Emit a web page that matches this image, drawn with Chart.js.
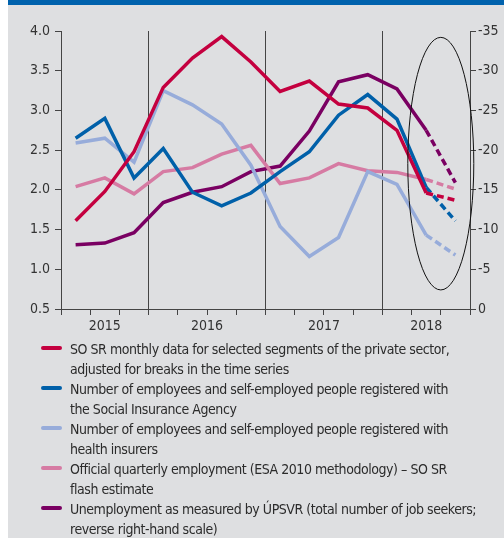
<!DOCTYPE html>
<html>
<head>
<meta charset="utf-8">
<script src="https://cdn.jsdelivr.net/npm/chart.js@4.4.1/dist/chart.umd.min.js"></script>
<style>
  body { margin: 0; background: #fff; font-family: "Liberation Sans Narrow", "DejaVu Sans Condensed", sans-serif; }
  #panel { position: absolute; left: 8px; top: 0; width: 496px; height: 538px; background: #dedfe1; overflow: hidden; }
  #bar { position: absolute; left: 0; top: 0; width: 100%; height: 5px; background: #0062ad; }
  #wrap { position: absolute; left: 0; top: 0; width: 496px; height: 340px; }
  #legend { position: absolute; left: 33px; top: 339px; width: 460px; font-size: 14px; line-height: 20px; letter-spacing: -0.45px; color: #2b2b2b; white-space: nowrap; }
  .item { position: relative; padding-left: 29px; }
  .swatch { position: absolute; left: 0; top: 7px; width: 21px; height: 4px; border-radius: 2px; }
</style>
</head>
<body>
<div id="panel">
  <div id="bar"></div>
  <div id="wrap"><canvas id="chart"></canvas></div>
  <div id="legend"></div>
</div>
<script>
// quarters 2015 Q2 .. 2018 Q3, last quarter is the flash estimate
const quarters = ['2015Q2', '2015Q3', '2015Q4', '2016Q1', '2016Q2', '2016Q3', '2016Q4',
                  '2017Q1', '2017Q2', '2017Q3', '2017Q4', '2018Q1', '2018Q2', '2018Q3'];
const years = ['2015', '2016', '2017', '2018'];
const yearStart = [0, 3, 7, 11];
const yearEnd = [2, 6, 10, 13];

const soSrMonthly = [1.61, 1.98, 2.48, 3.29, 3.66, 3.93, 3.61, 3.24, 3.37, 3.08, 3.03, 2.75, 1.96, 1.87];
const socialInsurance = [2.65, 2.90, 2.15, 2.52, 1.97, 1.80, 1.96, 2.23, 2.48, 2.94, 3.20, 2.89, 2.03, 1.61];
const healthInsurers = [2.59, 2.65, 2.35, 3.25, 3.07, 2.83, 2.31, 1.54, 1.16, 1.40, 2.23, 2.07, 1.43, 1.18];
const esaQuarterly = [2.04, 2.15, 1.95, 2.23, 2.28, 2.45, 2.56, 2.08, 2.15, 2.33, 2.24, 2.22, 2.13, 2.01];
const jobSeekers = [-8.1, -8.3, -9.6, -13.4, -14.7, -15.4, -17.3, -18.0, -22.4, -28.6, -29.5, -27.7, -22.5, -15.9];

const leftTicks = { min: 0.5, max: 4.0, step: 0.5 };
const rightTicks = { min: -35, max: 0, step: 5 };

const FONT = '"Liberation Sans Narrow", "DejaVu Sans Condensed", sans-serif';
Chart.defaults.font.family = FONT;
Chart.defaults.font.size = 14;
Chart.defaults.color = '#333';

// last segment of every line is dashed
const dashLast = { borderDash: ctx => ctx.p1DataIndex === quarters.length - 1 ? [7, 4] : undefined };

function line(label, data, color, axis) {
  return {
    label: label,
    data: data,
    borderColor: color,
    backgroundColor: color,
    borderWidth: 3.5,
    pointRadius: 0,
    tension: 0,
    yAxisID: axis || 'y',
    segment: dashLast
  };
}

const yearsAndEllipse = {
  id: 'yearsAndEllipse',
  afterDraw(chart) {
    const ctx = chart.ctx;
    const x = chart.scales.x;
    const y = chart.scales.y;
    const area = chart.chartArea;
    ctx.save();
    ctx.fillStyle = '#333';
    ctx.font = '14px ' + FONT;
    ctx.textAlign = 'center';
    ctx.textBaseline = 'middle';
    for (let i = 0; i < years.length; i++) {
      const cx = (x.getPixelForValue(yearStart[i]) + x.getPixelForValue(yearEnd[i])) / 2;
      ctx.fillText(years[i], cx, area.bottom + 17);
    }
    // ellipse round the estimated quarter
    const ex = (x.getPixelForValue(12) + x.getPixelForValue(13)) / 2;
    const top = y.getPixelForValue(3.92);
    const bottom = y.getPixelForValue(0.74);
    ctx.beginPath();
    ctx.ellipse(ex, (top + bottom) / 2, 33, (bottom - top) / 2, 0, 0, Math.PI * 2);
    ctx.strokeStyle = '#111';
    ctx.lineWidth = 1;
    ctx.stroke();
    ctx.restore();
  }
};

const chart = new Chart(document.getElementById('chart'), {
  type: 'line',
  data: {
    labels: quarters,
    datasets: [
      line(['SO SR monthly data for selected segments of the private sector,', 'adjusted for breaks in the time series'], soSrMonthly, '#c4003f'),
      line(['Number of employees and self-employed people registered with', 'the Social Insurance Agency'], socialInsurance, '#0060a9'),
      line(['Number of employees and self-employed people registered with', 'health insurers'], healthInsurers, '#97acda'),
      line(['Official quarterly employment (ESA 2010 methodology) \u2013 SO SR', 'flash estimate'], esaQuarterly, '#d67ba3'),
      line(['Unemployment as measured by \u00daPSVR (total number of job seekers;', 'reverse right-hand scale)'], jobSeekers, '#7a0062', 'yr')
    ]
  },
  options: {
    responsive: true,
    maintainAspectRatio: false,
    animation: false,
    layout: { padding: { top: 31, left: 0, right: 0, bottom: 0 } },
    plugins: { legend: { display: false }, tooltip: { enabled: false } },
    scales: {
      x: {
        offset: true,
        ticks: { display: false },
        grid: {
          offset: true,
          drawOnChartArea: true,
          color: c => yearStart.slice(1).includes(c.index) ? '#444' : 'rgba(0,0,0,0)',
          tickColor: '#444',
          tickLength: 6
        },
        border: { display: true, color: '#444' },
        afterFit: s => { s.height = 31; }
      },
      y: {
        position: 'left',
        min: leftTicks.min,
        max: leftTicks.max,
        ticks: { stepSize: leftTicks.step, padding: 5, callback: v => v.toFixed(1) },
        grid: { drawOnChartArea: false, tickColor: '#444', tickLength: 6 },
        border: { display: true, color: '#444' },
        afterFit: s => { s.width = 53; }
      },
      yr: {
        position: 'right',
        min: rightTicks.min,
        max: rightTicks.max,
        reverse: true,
        ticks: { stepSize: rightTicks.step, padding: 2 },
        grid: { drawOnChartArea: false, tickColor: '#444', tickLength: 6 },
        border: { display: true, color: '#444' },
        afterFit: s => { s.width = 34; }
      }
    }
  },
  plugins: [yearsAndEllipse]
});

// legend built from the dataset labels and colours
const legend = document.getElementById('legend');
chart.data.datasets.forEach(ds => {
  const item = document.createElement('div');
  item.className = 'item';
  const sw = document.createElement('span');
  sw.className = 'swatch';
  sw.style.background = ds.borderColor;
  item.appendChild(sw);
  ds.label.forEach((t, i) => {
    if (i) item.appendChild(document.createElement('br'));
    item.appendChild(document.createTextNode(t));
  });
  legend.appendChild(item);
});
</script>
</body>
</html>
